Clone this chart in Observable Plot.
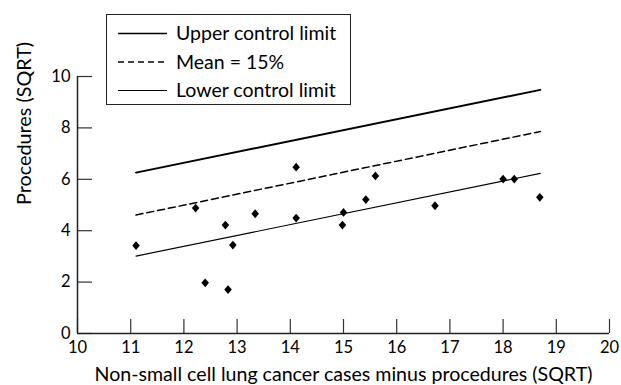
<!DOCTYPE html>
<html><head><meta charset="utf-8">
<script src="https://cdn.jsdelivr.net/npm/d3@7"></script>
<script src="https://cdn.jsdelivr.net/npm/@observablehq/plot@0.6"></script>
<style>
body{margin:0;background:#fff;}
#wrap{position:relative;width:621px;height:385px;font-family:Lato,"Open Sans",sans-serif;}
#legend{position:absolute;left:106px;top:14px;}
</style></head><body><div id="wrap"></div>
<script>
const xValues = [11.10, 12.22, 12.40, 12.78, 12.83, 12.92, 13.34, 14.11, 14.11, 15.00, 14.98, 15.42, 15.60, 16.72, 18.00, 18.21, 18.69];
const yValues = [3.42, 4.88, 1.97, 4.22, 1.71, 3.44, 4.66, 6.47, 4.49, 4.71, 4.22, 5.21, 6.13, 4.97, 6.01, 6.01, 5.30];
const limitX = [11.1, 18.7];
const upperLimit = [6.26, 9.48];
const meanLine = [4.61, 7.86];
const lowerLimit = [3.01, 6.23];
const xTicks = [10, 11, 12, 13, 14, 15, 16, 17, 18, 19, 20];
const yTicks = [0, 2, 4, 6, 8, 10];
const legendLabels = ["Upper control limit", "Mean = 15%", "Lower control limit"];
const xTitle = "Non-small cell lung cancer cases minus procedures (SQRT)";
const yTitle = "Procedures (SQRT)";

const points = xValues.map((x, i) => ({x, y: yValues[i]}));
const lineData = (ys) => limitX.map((x, i) => ({x, y: ys[i]}));

const diamond = {
  draw(ctx, size) {
    const h = Math.sqrt(size / Math.PI);
    const w = h * 0.86;
    ctx.moveTo(0, -h); ctx.lineTo(w, 0); ctx.lineTo(0, h); ctx.lineTo(-w, 0); ctx.closePath();
  }
};

const W = 621, H = 385, mL = 77, mR = 12, mT = 76, mB = 52;
const frameW = W - mL - mR, frameH = H - mT - mB;
const font = 'Lato, "Open Sans", sans-serif';
const chart = Plot.plot({
  width: W,
  height: H,
  marginLeft: mL,
  marginRight: mR,
  marginTop: mT,
  marginBottom: mB,
  style: {fontFamily: font, fontSize: "17px", color: "#000", background: "#fff"},
  x: {domain: [10, 20]},
  y: {domain: [0, 10]},
  marks: [
    Plot.tickX(xTicks, {x: d => d, insetTop: frameH - 14, stroke: "#333", strokeWidth: 1.2}),
    Plot.tickY(yTicks, {y: d => d, insetRight: frameW - 15, stroke: "#333", strokeWidth: 1.2}),
    Plot.axisX({ticks: xTicks, tickSize: 0, tickPadding: 8, label: null, fontSize: 16.5}),
    Plot.axisY({ticks: yTicks, tickSize: 0, tickPadding: 7, label: null, fontSize: 16.5}),
    Plot.ruleX([10], {strokeWidth: 1.5, stroke: "#222"}),
    Plot.ruleY([0], {strokeWidth: 1.5, stroke: "#222"}),
    Plot.line(lineData(upperLimit), {x: "x", y: "y", stroke: "#000", strokeWidth: 1.9}),
    Plot.line(lineData(meanLine), {x: "x", y: "y", stroke: "#000", strokeWidth: 1.5, strokeDasharray: "7,4"}),
    Plot.line(lineData(lowerLimit), {x: "x", y: "y", stroke: "#000", strokeWidth: 1.1}),
    Plot.dot(points, {x: "x", y: "y", symbol: diamond, r: 4.4, fill: "#000", stroke: "none"}),
    Plot.text([xTitle], {frameAnchor: "bottom", dy: 41, lineAnchor: "middle", fontSize: 19.6}),
    Plot.text([yTitle], {frameAnchor: "left", dx: -53, rotate: -90, lineAnchor: "middle", fontSize: 19.8})
  ]
});
const wrap = document.getElementById("wrap");
wrap.appendChild(chart);

// legend
const lg = d3.select(wrap).append("svg").attr("id", "legend").attr("width", 246).attr("height", 92);
lg.append("rect").attr("x", 0.5).attr("y", 0.5).attr("width", 244).attr("height", 90).attr("fill", "#fff").attr("stroke", "#222");
const styles = [{w: 1.6, d: null}, {w: 1.3, d: "6,4"}, {w: 1.0, d: null}];
legendLabels.forEach((t, i) => {
  const yy = 19.5 + i * 28.5;
  lg.append("line").attr("x1", 12).attr("x2", 61).attr("y1", yy).attr("y2", yy)
    .attr("stroke", "#000").attr("stroke-width", styles[i].w).attr("stroke-dasharray", styles[i].d);
  lg.append("text").attr("x", 70).attr("y", yy).attr("dy", "0.35em")
    .attr("font-family", font).attr("font-size", 19.5).text(t);
});
</script>
</body></html>
